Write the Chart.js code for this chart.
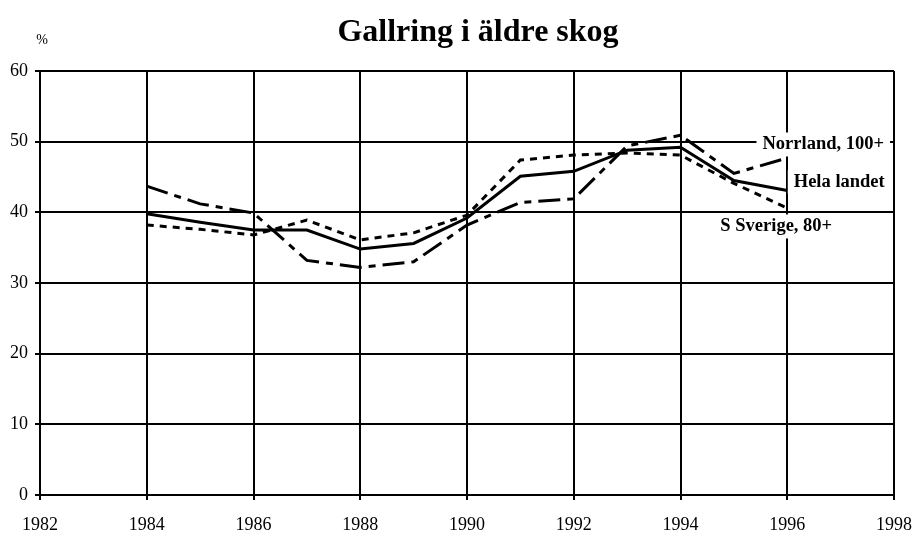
<!DOCTYPE html>
<html>
<head>
<meta charset="utf-8">
<script src="https://cdn.jsdelivr.net/npm/chart.js@4"></script>
<style>
  html, body { margin: 0; padding: 0; background: #fff; }
  #wrap { width: 914px; height: 536px; position: relative; }
</style>
</head>
<body>
<div id="wrap"><canvas id="c"></canvas></div>
<script>
// years and series
const years = [1984, 1985, 1986, 1987, 1988, 1989, 1990, 1991, 1992, 1993, 1994, 1995, 1996];
const helaLandet = [39.8, 38.6, 37.5, 37.5, 34.8, 35.6, 39.2, 45.1, 45.8, 48.8, 49.2, 44.5, 43.1];
const norrland = [43.7, 41.2, 39.9, 33.2, 32.2, 33.0, 38.2, 41.4, 41.9, 49.4, 50.9, 45.5, 47.7];
const sSverige = [38.2, 37.6, 36.8, 38.9, 36.1, 37.1, 39.6, 47.4, 48.1, 48.4, 48.1, 44.1, 40.6];
const seriesNames = ['Hela landet', 'Norrland, 100+', 'S Sverige, 80+'];
const yTicks = [0, 10, 20, 30, 40, 50, 60];
const xRange = [1982, 1998];

const FONT = '"Liberation Serif", "Times New Roman", serif';
const pts = arr => arr.map((v, i) => ({ x: years[i], y: v }));

// labels at the end of lines, with white boxes like the original
const endLabels = {
  id: 'endLabels',
  afterDatasetsDraw(chart) {
    const { ctx, scales: { x, y } } = chart;
    const last = years[years.length - 1];
    const items = [
      { text: seriesNames[1], px: x.getPixelForValue(last) + 36, py: y.getPixelForValue(49.6) },
      { text: seriesNames[0], px: x.getPixelForValue(last) + 52, py: y.getPixelForValue(44.3) },
      { text: seriesNames[2], px: x.getPixelForValue(last) - 11, py: y.getPixelForValue(38.0) }
    ];
    ctx.save();
    ctx.font = 'bold 18.5px ' + FONT;
    ctx.textAlign = 'center';
    ctx.textBaseline = 'middle';
    items.forEach(it => {
      const w = ctx.measureText(it.text).width;
      ctx.fillStyle = '#fff';
      ctx.fillRect(it.px - w / 2 - 6, it.py - 12, w + 12, 24);
      ctx.fillStyle = '#000';
      ctx.fillText(it.text, it.px, it.py);
    });
    // title and unit
    ctx.font = 'bold 32px ' + FONT;
    ctx.fillText('Gallring i äldre skog', 478, 33);
    ctx.font = '14px ' + FONT;
    ctx.fillText('%', 42, 40);
    ctx.restore();
  }
};

new Chart(document.getElementById('c'), {
  type: 'line',
  data: {
    datasets: [
      { label: seriesNames[0], data: pts(helaLandet), borderColor: '#000', borderWidth: 3, pointRadius: 0, fill: false, tension: 0 },
      { label: seriesNames[1], data: pts(norrland), borderColor: '#000', borderWidth: 3, borderDash: [22, 7, 7, 7], pointRadius: 0, fill: false, tension: 0 },
      { label: seriesNames[2], data: pts(sSverige), borderColor: '#000', borderWidth: 3, borderDash: [7, 6], pointRadius: 0, fill: false, tension: 0 }
    ]
  },
  options: {
    responsive: true,
    maintainAspectRatio: false,
    animation: false,
    layout: { padding: { top: 71, right: 20, left: 0, bottom: 0 } },
    plugins: { legend: { display: false }, tooltip: { enabled: false } },
    scales: {
      x: {
        type: 'linear',
        min: xRange[0],
        max: xRange[1],
        afterFit(s) { s.height = 41; s.paddingRight = 0; s.paddingLeft = 0; },
        ticks: { stepSize: 2, color: '#000', font: { family: FONT, size: 18 }, padding: 14, maxRotation: 0, callback: v => String(v) },
        grid: { color: '#000', lineWidth: 2, tickLength: 5 },
        border: { color: '#000', width: 2 }
      },
      y: {
        min: yTicks[0],
        max: yTicks[yTicks.length - 1],
        afterFit(s) { s.width = 40; },
        afterBuildTicks(s) { s.ticks = yTicks.map(v => ({ value: v })); },
        ticks: { color: '#000', font: { family: FONT, size: 18 }, padding: 7 },
        grid: { color: '#000', lineWidth: 2, tickLength: 5 },
        border: { color: '#000', width: 2 }
      }
    }
  },
  plugins: [endLabels]
});
</script>
</body>
</html>
